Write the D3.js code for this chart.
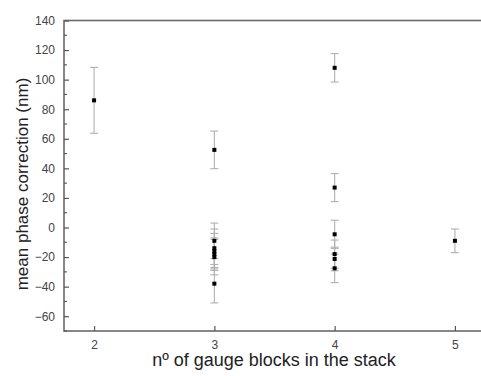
<!DOCTYPE html>
<html>
<head>
<meta charset="utf-8">
<script src="https://cdn.jsdelivr.net/npm/d3@7"></script>
<style>
  body { margin: 0; background: #fff; }
  svg { display: block; font-family: "Liberation Sans", Arial, sans-serif; }
</style>
</head>
<body>
<div id="chart"></div>
<script>
// number of gauge blocks, mean phase correction (nm), error half-width (nm)
const blocks = [2, 3, 3, 3, 3, 3, 3, 3, 4, 4, 4, 4, 4, 4, 5];
const correction = [86, 52.5, -9, -14, -16, -18, -20, -38, 108, 27, -4.6, -18, -21.3, -27.6, -9];
const errorHalf = [22.3, 12.7, 12, 13, 12, 11, 12, 13, 9.6, 9.5, 9.5, 9.5, 8, 9.7, 8];

const xTicks = [2, 3, 4, 5];
const yTicks = [-60, -40, -20, 0, 20, 40, 60, 80, 100, 120, 140];

(function() {
  const w = 481, h = 376;
  const left = 64, right = 485, top = 20.5, bottom = 331;

  const svg = d3.select("#chart").append("svg")
    .attr("width", w)
    .attr("height", h);

  const xScale = d3.scaleLinear().domain([1.75, 5.25]).range([left, right]);
  const yScale = d3.scaleLinear().domain([-70, 140]).range([bottom, top]);

  const data = blocks.map((b, i) => ({ x: b, y: correction[i], e: errorHalf[i] }));

  // frame
  svg.append("rect")
    .attr("x", left).attr("y", top)
    .attr("width", right - left).attr("height", bottom - top)
    .attr("fill", "none")
    .attr("stroke", "#6a6a6a")
    .attr("stroke-width", 1.6);

  // y axis
  const yAxis = d3.axisLeft(yScale)
    .tickValues(yTicks)
    .tickSize(-5)
    .tickPadding(9);
  const gy = svg.append("g")
    .attr("transform", `translate(${left},0)`)
    .call(yAxis);
  gy.select(".domain").remove();
  gy.selectAll(".tick line").attr("stroke", "#555").attr("stroke-width", 1.2);
  gy.selectAll(".tick text").attr("fill", "#444").style("font-size", "12px");

  const yMinor = d3.range(-70, 141, 10).filter(v => !yTicks.includes(v));
  svg.append("g").selectAll("line")
    .data(yMinor).enter().append("line")
    .attr("x1", left).attr("x2", left + 3)
    .attr("y1", d => yScale(d)).attr("y2", d => yScale(d))
    .attr("stroke", "#555").attr("stroke-width", 1.1);

  // x axis
  const xAxis = d3.axisBottom(xScale)
    .tickValues(xTicks)
    .tickFormat(d3.format("d"))
    .tickSize(-5)
    .tickPadding(9);
  const gx = svg.append("g")
    .attr("transform", `translate(0,${bottom})`)
    .call(xAxis);
  gx.select(".domain").remove();
  gx.selectAll(".tick line").attr("stroke", "#555").attr("stroke-width", 1.2);
  gx.selectAll(".tick text").attr("fill", "#444").style("font-size", "12px");

  // error bars
  const eb = svg.append("g").attr("stroke", "#b0b0b0").attr("stroke-width", 1.1);
  data.forEach(d => {
    const cx = xScale(d.x);
    const y1 = yScale(d.y + d.e), y2 = yScale(d.y - d.e);
    eb.append("line").attr("x1", cx).attr("x2", cx).attr("y1", y1).attr("y2", y2);
    eb.append("line").attr("x1", cx - 4).attr("x2", cx + 4).attr("y1", y1).attr("y2", y1);
    eb.append("line").attr("x1", cx - 4).attr("x2", cx + 4).attr("y1", y2).attr("y2", y2);
  });

  // points
  svg.selectAll("rect.pt")
    .data(data).enter().append("rect")
    .attr("class", "pt")
    .attr("x", d => xScale(d.x) - 2)
    .attr("y", d => yScale(d.y) - 2)
    .attr("width", 4).attr("height", 4)
    .attr("fill", "#000");

  // axis titles
  svg.append("text")
    .attr("transform", "translate(28,184) rotate(-90)")
    .attr("text-anchor", "middle")
    .attr("fill", "#222")
    .style("font-size", "17px")
    .text("mean phase correction (nm)");

  svg.append("text")
    .attr("x", 274).attr("y", 366)
    .attr("text-anchor", "middle")
    .attr("fill", "#222")
    .style("font-size", "18px")
    .text("nº of gauge blocks in the stack");
})();
</script>
</body>
</html>
